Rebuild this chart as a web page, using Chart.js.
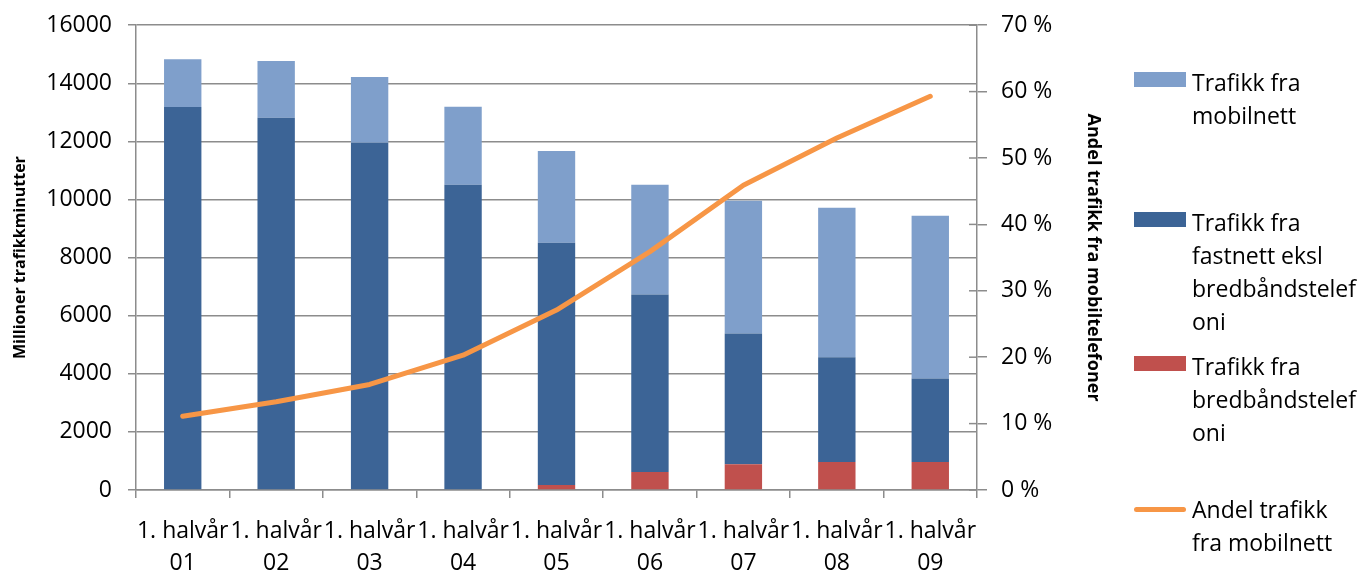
<!DOCTYPE html>
<html>
<head>
<meta charset="utf-8">
<script src="https://cdn.jsdelivr.net/npm/chart.js@4.4.1/dist/chart.umd.min.js"></script>
<style>
  body { margin: 0; background: #fff; }
  #wrap { position: relative; width: 1361px; height: 574px; }
  .leg { position: absolute; left: 1134px; font-family: 'Open Sans', sans-serif; font-size: 23px; line-height: 33px; color: #000; }
  .leg .sw { position: absolute; left: 0; width: 52px; height: 15px; }
  .leg .txt { position: absolute; left: 58px; white-space: nowrap; }
</style>
</head>
<body>
<div id="wrap">
  <canvas id="trafikkChart" width="1361" height="574"></canvas>
</div>
<script>
// labels and values
var categories = [['1. halvår', '01'], ['1. halvår', '02'], ['1. halvår', '03'], ['1. halvår', '04'],
                  ['1. halvår', '05'], ['1. halvår', '06'], ['1. halvår', '07'], ['1. halvår', '08'], ['1. halvår', '09']]
var bredband = [0, 0, 0, 0, 170, 620, 890, 960, 960]
var fastnett = [13180, 12810, 11950, 10510, 8340, 6110, 4500, 3610, 2880]
var mobilnett = [1650, 1960, 2270, 2680, 3160, 3780, 4570, 5150, 5600]
var andelMobil = [11.1, 13.3, 15.9, 20.3, 27.1, 35.9, 45.9, 53.0, 59.3]

var legendItems = [
    { lines: ['Trafikk fra', 'mobilnett'], color: '#7F9FCB', top: 66 },
    { lines: ['Trafikk fra', 'fastnett eksl', 'bredbåndstelef', 'oni'], color: '#3C6496', top: 206 },
    { lines: ['Trafikk fra', 'bredbåndstelef', 'oni'], color: '#C0504D', top: 350 },
    { lines: ['Andel trafikk', 'fra mobilnett'], color: '#F79646', top: 493, line: true }
]

var gridColor = '#8c8c8c'
Chart.defaults.font.family = "'Open Sans', sans-serif"
Chart.defaults.color = '#000'

// Excel style ticks that cross the right axis
var crossTicks = {
    id: 'crossTicks',
    afterDraw: function (chart) {
        var s = chart.scales.y1
        var ctx = chart.ctx
        ctx.save()
        ctx.strokeStyle = gridColor
        ctx.lineWidth = 1.5
        s.ticks.forEach(function (t) {
            var y = s.getPixelForValue(t.value)
            ctx.beginPath()
            ctx.moveTo(s.left - 8, y)
            ctx.lineTo(s.left, y)
            ctx.stroke()
        })
        ctx.restore()
    }
}

var ctx = document.getElementById('trafikkChart')
var chart = new Chart(ctx, {
    type: 'bar',
    data: {
        labels: categories,
        datasets: [
            { type: 'line', label: 'Andel trafikk fra mobilnett', data: andelMobil, yAxisID: 'y1',
              borderColor: '#F79646', borderWidth: 5, pointRadius: 0, tension: 0,
              borderCapStyle: 'round', borderJoinStyle: 'round', order: 0 },
            { label: 'Trafikk fra bredbåndstelefoni', data: bredband, backgroundColor: '#C0504D', order: 1 },
            { label: 'Trafikk fra fastnett eksl bredbåndstelefoni', data: fastnett, backgroundColor: '#3C6496', order: 1 },
            { label: 'Trafikk fra mobilnett', data: mobilnett, backgroundColor: '#7F9FCB', order: 1 }
        ]
    },
    options: {
        responsive: false,
        animation: false,
        categoryPercentage: 1,
        barPercentage: 0.4,
        layout: { padding: { left: 7, right: 253, top: 24, bottom: 0 } },
        plugins: { legend: { display: false }, tooltip: { enabled: false } },
        scales: {
            x: {
                stacked: true,
                offset: true,
                grid: { offset: true, drawOnChartArea: false, color: gridColor, lineWidth: 1.5, tickLength: 8 },
                border: { color: gridColor, width: 1.5 },
                ticks: { maxRotation: 0, autoSkip: false, padding: 17, font: { size: 23, lineHeight: 1.39 } },
                afterFit: function (s) { s.height = 84 }
            },
            y: {
                stacked: true,
                min: 0, max: 16000,
                ticks: { stepSize: 2000, padding: 16, font: { size: 23, lineHeight: 0.8 }, callback: function (v) { return String(v) } },
                grid: { color: gridColor, lineWidth: 1.5, tickLength: 8 },
                border: { color: gridColor, width: 1.5 },
                title: { display: true, text: 'Millioner trafikkminutter', font: { size: 16, weight: 'bold' }, padding: 4 },
                afterFit: function (s) { s.width = 129 }
            },
            y1: {
                position: 'right',
                min: 0, max: 70,
                ticks: { stepSize: 10, padding: 14, font: { size: 23, lineHeight: 0.8 }, callback: function (v) { return v + ' %' } },
                grid: { drawOnChartArea: false, color: gridColor, lineWidth: 1.5, tickLength: 10 },
                border: { color: gridColor, width: 1.5 },
                title: { display: true, text: 'Andel trafikk fra mobiltelefoner', font: { size: 18, weight: 'bold' }, padding: 4 },
                afterFit: function (s) { s.width = 131 }
            }
        }
    },
    plugins: [crossTicks]
})

// legend as html text
var wrap = document.getElementById('wrap')
legendItems.forEach(function (item) {
    var d = document.createElement('div')
    d.className = 'leg'
    d.style.top = item.top + 'px'
    var sw = document.createElement('div')
    sw.className = 'sw'
    sw.style.background = item.color
    if (item.line) {
        sw.style.height = '5px'
        sw.style.top = '14px'
        sw.style.borderRadius = '3px'
    } else {
        sw.style.top = '6px'
    }
    d.appendChild(sw)
    var t = document.createElement('div')
    t.className = 'txt'
    t.innerHTML = item.lines.join('<br>')
    d.appendChild(t)
    wrap.appendChild(d)
})
</script>
</body>
</html>
